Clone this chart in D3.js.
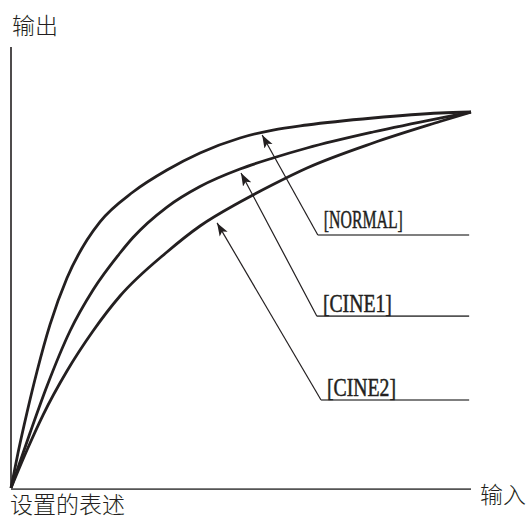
<!DOCTYPE html>
<html>
<head>
<meta charset="utf-8">
<script src="https://cdn.jsdelivr.net/npm/d3@7"></script>
<style>
  html, body { margin: 0; padding: 0; background: #fff; }
  svg { display: block; }
</style>
</head>
<body>
<svg id="chart" width="529" height="519"></svg>
<script>
// ---- data (input 0..100, output 0..100) ----
const seriesNames = ["NORMAL", "CINE1", "CINE2"];
const normalInput  = [0, 1.52, 3.48, 5.65, 8.48, 12.17, 16.52, 19.35, 26.52, 33.91, 41.09, 49.78, 56.96, 64.35, 78.70, 93.26, 100];
const normalOutput = [0, 9.31, 20.08, 30.98, 43.43, 55.85, 65.96, 70.80, 78.72, 84.57, 89.10, 93.09, 95.21, 96.54, 98.40, 99.73, 100];
const cine1Input   = [0, 4.13, 7.83, 12.83, 17.83, 23.70, 26.52, 33.91, 41.09, 49.78, 56.96, 64.35, 78.70, 93.26, 100];
const cine1Output  = [0, 14.63, 27.13, 41.76, 52.66, 62.50, 66.62, 74.73, 80.19, 84.84, 87.77, 90.43, 94.68, 98.40, 100];
const cine2Input   = [0, 3.48, 6.96, 12.17, 17.83, 23.70, 33.91, 41.09, 49.78, 56.96, 64.35, 78.70, 93.26, 100];
const cine2Output  = [0, 10.11, 19.41, 31.12, 41.76, 51.06, 62.77, 69.68, 76.06, 80.72, 85.11, 91.76, 97.47, 100];

// annotation: label, arrow tip (input, output), elbow (input, output), underline end input
const labelTexts   = ["[NORMAL]", "[CINE1]", "[CINE2]"];
const tipInput     = [54.6, 50.0, 44.8];
const tipOutput    = [93.9, 83.8, 70.5];
const elbowInput   = [66.7, 66.5, 67.4];
const elbowOutput  = [67.3, 45.7, 23.4];
const underlineEnd = [99.6, 99.6, 99.6];

const axisTitles = { y: "输出", x: "输入", origin: "设置的表述" };
const yAxisTop = 117.3;

// ---- layout ----
const svg = d3.select("#chart");
const x = d3.scaleLinear().domain([0, 100]).range([11, 471]);
const y = d3.scaleLinear().domain([0, 100]).range([488, 112]);

const ink = "#231f20";

// markers
svg.append("defs").append("marker")
  .attr("id", "arrow")
  .attr("viewBox", "-13 -5 13 10")
  .attr("refX", 0).attr("refY", 0)
  .attr("markerUnits", "userSpaceOnUse")
  .attr("markerWidth", 13).attr("markerHeight", 10)
  .attr("orient", "auto")
  .append("path")
  .attr("d", "M0,0L-13,-4.6L-10,0L-13,4.6Z")
  .attr("fill", ink);

// axes
const axisLine = d3.line().x(d => x(d[0])).y(d => y(d[1]));
svg.append("path")
  .attr("d", axisLine([[0, 0], [0, yAxisTop]]))
  .attr("stroke", ink).attr("stroke-width", 1.6).attr("fill", "none");
svg.append("path")
  .attr("d", axisLine([[0, -0.3], [100, -0.3]]))
  .attr("stroke", "#555").attr("stroke-width", 1.8).attr("fill", "none");

// curves
const series = [
  [normalInput, normalOutput],
  [cine1Input, cine1Output],
  [cine2Input, cine2Output]
].map(([xs, ys], i) => ({ name: seriesNames[i], pts: xs.map((v, j) => [v, ys[j]]) }));

const curve = d3.line()
  .x(d => x(d[0])).y(d => y(d[1]))
  .curve(d3.curveMonotoneX);

svg.selectAll("path.curve").data(series).join("path")
  .attr("class", "curve")
  .attr("d", d => curve(d.pts))
  .attr("fill", "none")
  .attr("stroke", ink)
  .attr("stroke-width", 2.8)
  .attr("stroke-linejoin", "round");

// annotations
labelTexts.forEach((t, i) => {
  svg.append("path")
    .attr("d", `M${x(elbowInput[i])},${y(elbowOutput[i])}L${x(tipInput[i])},${y(tipOutput[i])}`)
    .attr("stroke", ink).attr("stroke-width", 1.2).attr("fill", "none")
    .attr("marker-end", "url(#arrow)");
  svg.append("path")
    .attr("d", `M${x(elbowInput[i])},${y(elbowOutput[i])}H${x(underlineEnd[i])}`)
    .attr("stroke", "#555").attr("stroke-width", 1.6).attr("fill", "none");
  svg.append("text")
    .attr("x", x(elbowInput[i]) + 6)
    .attr("y", y(elbowOutput[i]) - (i === 0 ? 7 : 4))
    .attr("font-family", "'Liberation Serif', 'DejaVu Serif', serif")
    .attr("font-size", 25)
    .attr("textLength", t.length * 10 - 1)
    .attr("lengthAdjust", "spacingAndGlyphs")
    .attr("fill", ink)
    .attr("stroke", ink)
    .attr("stroke-width", 0.5)
    .text(t);
});

// axis titles
const cjk = "'Noto Sans CJK SC', 'Noto Sans CJK JP', sans-serif";
svg.append("text").attr("x", 12).attr("y", 34)
  .attr("font-family", cjk).attr("font-size", 23).attr("font-weight", 300)
  .attr("fill", ink).text(axisTitles.y);
svg.append("text").attr("x", 480).attr("y", 503)
  .attr("font-family", cjk).attr("font-size", 23).attr("font-weight", 300)
  .attr("fill", ink).text(axisTitles.x);
svg.append("text").attr("x", 10).attr("y", 513)
  .attr("font-family", cjk).attr("font-size", 23).attr("font-weight", 300)
  .attr("fill", ink).text(axisTitles.origin);
</script>
</body>
</html>
